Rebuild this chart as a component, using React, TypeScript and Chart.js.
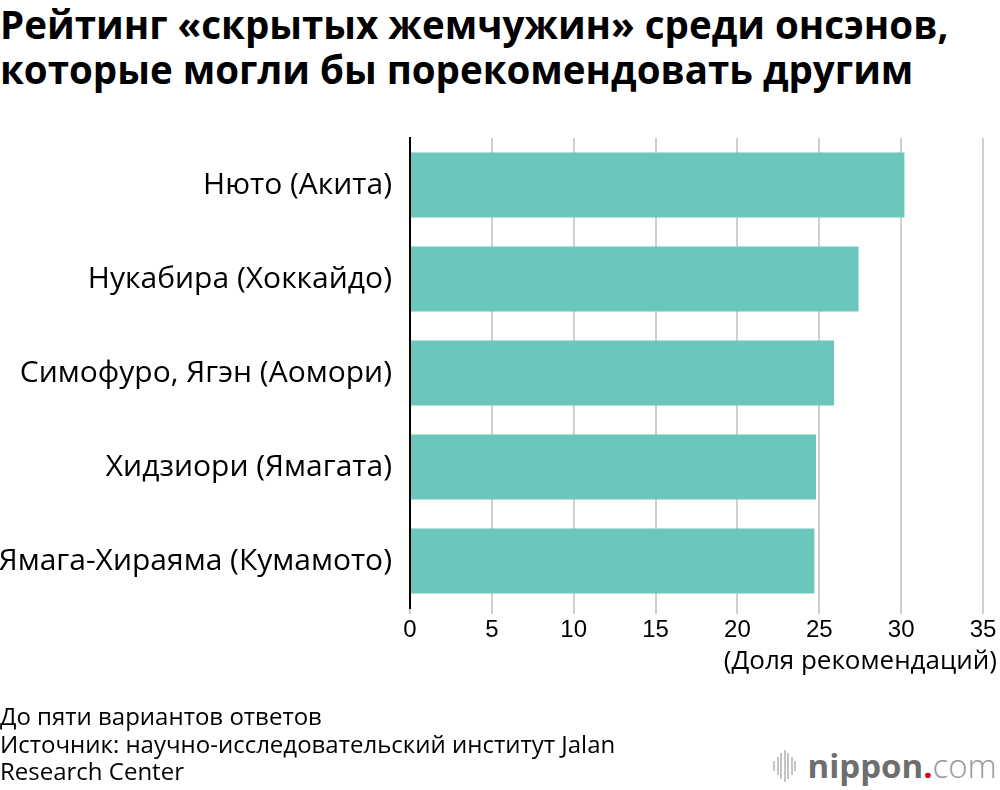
import React, { useEffect, useRef } from "react";
import { Chart, registerables } from "chart.js";

Chart.register(...registerables);

const titleLines = [
  "Рейтинг «скрытых жемчужин» среди онсэнов,",
  "которые могли бы порекомендовать другим",
];
const categories = [
  "Нюто (Акита)",
  "Нукабира (Хоккайдо)",
  "Симофуро, Ягэн (Аомори)",
  "Хидзиори (Ямагата)",
  "Ямага-Хираяма (Кумамото)",
];
const values = [30.2, 27.4, 25.9, 24.8, 24.7];
const xMin = 0;
const xMax = 35;
const xStep = 5;
const axisTitle = "(Доля рекомендаций)";
const footerLines = [
  "До пяти вариантов ответов",
  "Источник: научно-исследовательский институт Jalan",
  "Research Center",
];

const CANVAS_TOP = 120;
const CANVAS_W = 1000;
const CANVAS_H = 580;

export default function App() {
  const ref = useRef<HTMLCanvasElement | null>(null);

  useEffect(() => {
    if (!ref.current) return;
    const chart = new Chart(ref.current, {
      type: "bar",
      data: {
        labels: categories,
        datasets: [
          {
            data: values,
            backgroundColor: "#6BC7BB",
            borderWidth: 0,
            barPercentage: 0.69,
            categoryPercentage: 1,
          },
        ],
      },
      options: {
        indexAxis: "y",
        animation: false,
        responsive: false,
        devicePixelRatio: 1,
        layout: { padding: { top: 18, right: 17, bottom: 42, left: 0 } },
        plugins: {
          legend: { display: false },
          tooltip: { enabled: false },
        },
        scales: {
          x: {
            min: xMin,
            max: xMax,
            ticks: {
              stepSize: xStep,
              color: "#000",
              padding: 2,
              font: { family: "Liberation Sans", size: 24 },
            },
            grid: {
              color: "#cfcfcf",
              lineWidth: 2,
              drawTicks: true,
              tickLength: 6,
            },
            border: { display: false },
            afterFit: (s: any) => {
              s.height = 50;
              s.paddingLeft = 0;
              s.paddingRight = 0;
            },
          },
          y: {
            ticks: {
              color: "#000",
              padding: 18,
              font: { family: "Open Sans", size: 30 },
            },
            grid: { display: false, drawTicks: false },
            border: { display: true, color: "#000", width: 2 },
            afterFit: (s: any) => {
              s.width = 410;
              s.paddingTop = 0;
              s.paddingBottom = 0;
            },
          },
        },
      },
    });
    return () => chart.destroy();
  }, []);

  const logoBars = [10, 18, 26, 32, 26, 18, 10];

  return (
    <div
      style={{
        position: "fixed",
        left: 0,
        top: 0,
        width: 1000,
        height: 790,
        background: "#fff",
        overflow: "hidden",
      }}
    >
      <div
        style={{
          position: "absolute",
          left: 0,
          top: 2,
          fontFamily: "Open Sans",
          fontWeight: 700,
          fontSize: 38.5,
          lineHeight: "45px",
          color: "#000",
          whiteSpace: "nowrap",
        }}
      >
        {titleLines.map((t, i) => (
          <div key={i}>{t}</div>
        ))}
      </div>
      <canvas
        ref={ref}
        width={CANVAS_W}
        height={CANVAS_H}
        style={{ position: "absolute", left: 0, top: CANVAS_TOP, width: CANVAS_W, height: CANVAS_H }}
      />
      <div
        style={{
          position: "absolute",
          right: 3,
          top: 642,
          fontFamily: "Open Sans",
          fontSize: 26,
          lineHeight: "34px",
          color: "#000",
          whiteSpace: "nowrap",
        }}
      >
        {axisTitle}
      </div>
      <div
        style={{
          position: "absolute",
          left: 0,
          top: 702,
          fontFamily: "Open Sans",
          fontSize: 24,
          lineHeight: "27.5px",
          color: "#000",
          whiteSpace: "nowrap",
        }}
      >
        {footerLines.map((t, i) => (
          <div key={i}>{t}</div>
        ))}
      </div>
      <div
        style={{
          position: "absolute",
          left: 773,
          top: 744,
          height: 44,
          display: "flex",
          alignItems: "center",
          whiteSpace: "nowrap",
        }}
      >
        <div style={{ display: "flex", alignItems: "center", marginRight: 10 }}>
          {logoBars.map((h, i) => (
            <div
              key={i}
              style={{ width: 2, height: h, background: "#c4c4c4", marginRight: 1.5 }}
            />
          ))}
        </div>
        <span
          style={{
            fontFamily: "Open Sans",
            fontWeight: 700,
            fontSize: 33,
            color: "#6e6e6e",
            lineHeight: "44px",
          }}
        >
          nippon
        </span>
        <span
          style={{
            fontFamily: "Open Sans",
            fontWeight: 700,
            fontSize: 33,
            color: "#e60012",
            lineHeight: "44px",
          }}
        >
          .
        </span>
        <span
          style={{
            fontFamily: "Open Sans",
            fontWeight: 300,
            fontSize: 33,
            color: "#9a9a9a",
            lineHeight: "44px",
          }}
        >
          com
        </span>
      </div>
    </div>
  );
}
